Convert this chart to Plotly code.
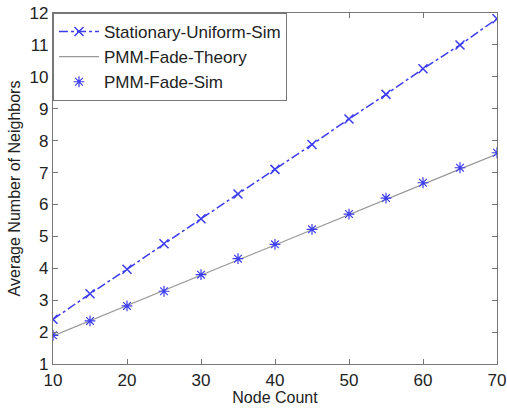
import plotly.graph_objects as go

node_count = [10, 15, 20, 25, 30, 35, 40, 45, 50, 55, 60, 65, 70]
stationary_uniform_sim = [2.4, 3.2, 3.97, 4.77, 5.55, 6.33, 7.1, 7.88, 8.68, 9.45, 10.25, 11.0, 11.82]
pmm_fade_theory = [1.88, 2.36, 2.83, 3.31, 3.78, 4.26, 4.73, 5.21, 5.68, 6.16, 6.63, 7.11, 7.58]
pmm_fade_sim = [1.9, 2.35, 2.82, 3.28, 3.8, 4.3, 4.75, 5.22, 5.7, 6.2, 6.68, 7.15, 7.62]

blue = "#3c3cf0"
fig = go.Figure()
fig.add_trace(go.Scatter(x=node_count, y=stationary_uniform_sim, mode="lines+markers",
                         name="Stationary-Uniform-Sim",
                         line=dict(color=blue, dash="dashdot", width=1.5),
                         marker=dict(symbol="x-thin-open", size=9, color=blue,
                                     line=dict(color=blue, width=1.5))))
fig.add_trace(go.Scatter(x=node_count, y=pmm_fade_theory, mode="lines",
                         name="PMM-Fade-Theory", line=dict(color="#999999", width=1.3)))
fig.add_trace(go.Scatter(x=node_count, y=pmm_fade_sim, mode="markers",
                         name="PMM-Fade-Sim",
                         marker=dict(symbol="asterisk-open", size=9, color=blue,
                                     line=dict(color=blue, width=1.2))))

axis_common = dict(showline=True, linecolor="#777777", linewidth=1.2, mirror="ticks",
                   ticks="inside", ticklen=5, tickcolor="#777777", showgrid=False, zeroline=False,
                   automargin=False, tickfont=dict(size=17, color="#222222"))
fig.update_layout(
    width=507, height=410,
    margin=dict(l=53, r=10, t=13, b=46),
    paper_bgcolor="white", plot_bgcolor="white",
    font=dict(family="Liberation Sans, Arial, sans-serif", color="#222222"),
    xaxis=dict(range=[10, 70], tickvals=[10, 20, 30, 40, 50, 60, 70],
               title=dict(text="Node Count", font=dict(size=16), standoff=0), **axis_common),
    yaxis=dict(range=[1, 12], tickvals=list(range(1, 13)),
               title=dict(text="Average Number of Neighbors", font=dict(size=16), standoff=4), **axis_common),
    legend=dict(x=0, y=1, xanchor="left", yanchor="top", bgcolor="white",
                bordercolor="#777777", borderwidth=1, font=dict(size=17),
                tracegroupgap=0, itemwidth=40),
    showlegend=True,
)
fig.write_html("out.html")
